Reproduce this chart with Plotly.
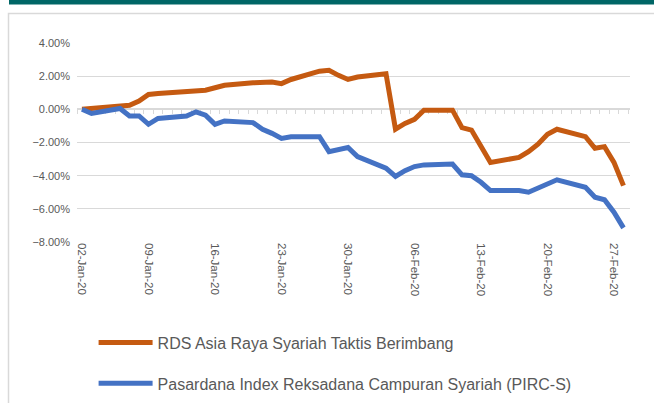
import plotly.graph_objects as go

dates = [
    "2020-01-02", "2020-01-03", "2020-01-06", "2020-01-07", "2020-01-08", "2020-01-09", "2020-01-10",
    "2020-01-13", "2020-01-14", "2020-01-15", "2020-01-16", "2020-01-17",
    "2020-01-20", "2020-01-21", "2020-01-22", "2020-01-23", "2020-01-24",
    "2020-01-27", "2020-01-28", "2020-01-29", "2020-01-30", "2020-01-31",
    "2020-02-03", "2020-02-04", "2020-02-05", "2020-02-06", "2020-02-07",
    "2020-02-10", "2020-02-11", "2020-02-12", "2020-02-13", "2020-02-14",
    "2020-02-17", "2020-02-18", "2020-02-19", "2020-02-20", "2020-02-21",
    "2020-02-24", "2020-02-25", "2020-02-26", "2020-02-27", "2020-02-28",
]

rds_pct = [
    0.00, 0.05, 0.20, 0.25, 0.50, 0.90, 0.95,
    1.10, 1.10, 1.15, 1.30, 1.45,
    1.60, 1.65, 1.65, 1.55, 1.80,
    2.30, 2.35, 2.05, 1.80, 1.95,
    2.15, -1.20, -0.85, -0.60, -0.05,
    -0.05, -1.10, -1.25, -2.25, -3.20,
    -2.90, -2.55, -2.10, -1.50, -1.20,
    -1.65, -2.35, -2.25, -3.20, -4.60,
]

pirc_pct = [
    0.00, -0.25, 0.05, -0.40, -0.40, -0.90, -0.55,
    -0.40, -0.15, -0.35, -0.90, -0.70,
    -0.80, -1.20, -1.45, -1.75, -1.65,
    -1.65, -2.55, -2.45, -2.30, -2.85,
    -3.55, -4.05, -3.70, -3.45, -3.35,
    -3.30, -3.95, -4.00, -4.40, -4.90,
    -4.90, -5.00, -4.75, -4.50, -4.25,
    -4.70, -5.30, -5.45, -6.20, -7.15,
]

tick_dates = ["2020-01-02", "2020-01-09", "2020-01-16", "2020-01-23", "2020-01-30",
              "2020-02-06", "2020-02-13", "2020-02-20", "2020-02-27"]
tick_labels = ["02-Jan-20", "09-Jan-20", "16-Jan-20", "23-Jan-20", "30-Jan-20",
               "06-Feb-20", "13-Feb-20", "20-Feb-20", "27-Feb-20"]

series_names = ["RDS Asia Raya Syariah Taktis Berimbang",
                "Pasardana Index Reksadana Campuran Syariah (PIRC-S)"]
series_colors = ["#C55A11", "#4472C4"]

x_range = ["2020-01-01 11:20", "2020-02-28 16:30"]

grid = "#d9d9d9"
txt = "#595959"

fig = go.Figure()

# invisible helper trace on the base axis (which draws the zero line with daily ticks)
fig.add_trace(go.Scatter(x=[dates[0]], y=[0], xaxis="x", mode="markers",
                         marker=dict(opacity=0), showlegend=False, hoverinfo="skip"))

for name, vals, col in zip(series_names, [rds_pct, pirc_pct], series_colors):
    fig.add_trace(go.Scatter(
        x=dates, y=[v / 100 for v in vals], mode="lines", name=name,
        legendgroup=name, xaxis="x2",
        line=dict(color=col, width=5, shape="linear"),
    ))

fig.update_layout(
    width=654, height=403,
    margin=dict(l=77, r=24, t=43, b=161, autoexpand=False),
    paper_bgcolor="white", plot_bgcolor="white",
    font=dict(family="Liberation Sans, Arial, sans-serif", color=txt),
    showlegend=True,
    legend=dict(
        orientation="v", x=0.03, xanchor="left", y=-0.42, yanchor="top",
        font=dict(size=16, color=txt), tracegroupgap=17, itemwidth=54,
        bgcolor="rgba(0,0,0,0)",
    ),
    xaxis=dict(
        type="date", range=x_range, anchor="free", layer="below traces",
        position=8 / 12, side="bottom", showline=True, linecolor=grid, linewidth=1.5,
        ticks="outside", ticklen=4, tickcolor=grid, tickwidth=1,
        tick0="2020-01-01 12:00", dtick=86400000, showticklabels=False,
        showgrid=False, zeroline=False, automargin=False,
    ),
    xaxis2=dict(
        type="date", range=x_range, overlaying="x", anchor="y", side="bottom",
        tickvals=tick_dates, ticktext=tick_labels,
        tickangle=90, tickfont=dict(size=11.5, color=txt), showgrid=False,
        showline=False, ticks="", zeroline=False, automargin=False,
    ),
    yaxis=dict(
        range=[-0.08, 0.04], dtick=0.02, tickformat=".2%",
        tickfont=dict(size=11, color=txt), gridcolor=grid, gridwidth=1,
        zeroline=False, showline=False, ticks="", ticklabelstandoff=6,
        automargin=False, layer="below traces",
    ),
    shapes=[
        dict(type="rect", xref="paper", yref="paper",
             x0=(9 - 77) / 553, x1=(660 - 77) / 553,
             y0=(242 - 4.5) / 199, y1=(242 + 5) / 199,
             fillcolor="#006666", line=dict(width=0), layer="above"),
        dict(type="rect", xref="paper", yref="paper",
             x0=(8.5 - 77) / 553, x1=(700 - 77) / 553,
             y0=(242 - 450) / 199, y1=(242 - 13.5) / 199,
             fillcolor="rgba(0,0,0,0)", line=dict(color=grid, width=1.5), layer="below"),
    ],
)

fig.write_html("out.html", config={"displayModeBar": False},
               post_script="document.body.style.margin='0';")
